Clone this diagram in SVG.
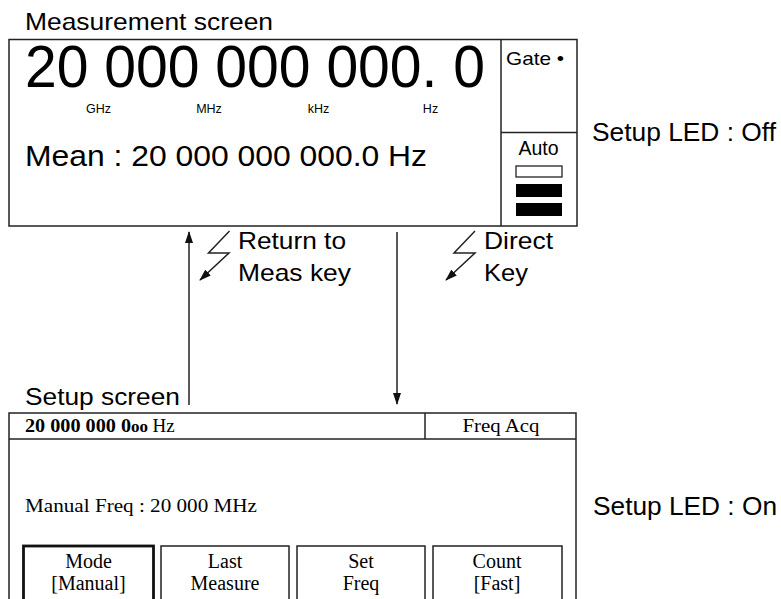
<svg xmlns="http://www.w3.org/2000/svg" width="781" height="599" viewBox="0 0 781 599">
<defs>
<style>
.ln{fill:none;stroke:#222;stroke-width:1.5}
.sans{font-family:"Liberation Sans",Arial,sans-serif;fill:#000}
.serif{font-family:"Liberation Serif","Times New Roman",serif;fill:#000}
</style>
<marker id="ah" markerUnits="userSpaceOnUse" markerWidth="12" markerHeight="8" viewBox="0 0 12 8" refX="11" refY="4" orient="auto">
<path d="M0,0 L12,4 L0,8 Z" fill="#111"/>
</marker>
</defs>
<rect width="781" height="599" fill="#fff"/>

<g id="measurement-screen">
<text class="sans" x="25" y="30" font-size="24" textLength="248" lengthAdjust="spacingAndGlyphs">Measurement screen</text>
<rect class="ln" x="9" y="39.5" width="568" height="186.5"/>
<line class="ln" x1="501" y1="39.5" x2="501" y2="226"/>
<line class="ln" x1="501" y1="132.5" x2="577" y2="132.5"/>
<text class="sans" x="25" y="87" font-size="59" textLength="460" lengthAdjust="spacingAndGlyphs">20 000 000 000. 0</text>
<g class="sans" font-size="12.5" text-anchor="middle">
<text x="98.5" y="113">GHz</text>
<text x="209" y="113">MHz</text>
<text x="318.5" y="113">kHz</text>
<text x="430.5" y="113">Hz</text>
</g>
<text class="sans" x="25" y="166" font-size="29" textLength="402" lengthAdjust="spacingAndGlyphs">Mean : 20 000 000 000.0 Hz</text>
<text class="sans" x="506" y="65" font-size="19" textLength="58" lengthAdjust="spacingAndGlyphs">Gate •</text>
<text class="sans" x="538.5" y="155" font-size="19.5" text-anchor="middle">Auto</text>
<rect x="516" y="166" width="46" height="11" fill="#fff" stroke="#222" stroke-width="1.3"/>
<rect x="516" y="184" width="46" height="13" fill="#000"/>
<rect x="516" y="203" width="46" height="13" fill="#000"/>
</g>

<g id="setup-led-off">
<text class="sans" x="592" y="141" font-size="25" textLength="184" lengthAdjust="spacingAndGlyphs">Setup LED : Off</text>
</g>

<g id="connectors">
<line class="ln" x1="189" y1="405" x2="189" y2="232" marker-end="url(#ah)"/>
<line class="ln" x1="397" y1="232" x2="397" y2="404" marker-end="url(#ah)"/>
<polyline class="ln" points="229.5,231 208.5,253 229,253 200,280" marker-end="url(#ah)"/>
<polyline class="ln" points="475,231 454,253 475,253 446,280" marker-end="url(#ah)"/>
</g>

<g id="labels-transitions">
<text class="sans" x="238" y="249" font-size="24" textLength="108" lengthAdjust="spacingAndGlyphs">Return to</text>
<text class="sans" x="238" y="281" font-size="24" textLength="113" lengthAdjust="spacingAndGlyphs">Meas key</text>
<text class="sans" x="484" y="249" font-size="24" textLength="69" lengthAdjust="spacingAndGlyphs">Direct</text>
<text class="sans" x="484" y="281" font-size="24" textLength="44" lengthAdjust="spacingAndGlyphs">Key</text>
</g>

<g id="setup-screen">
<text class="sans" x="25" y="405" font-size="23" textLength="155" lengthAdjust="spacingAndGlyphs">Setup screen</text>
<rect class="ln" x="9" y="413" width="567" height="200"/>
<line class="ln" x1="9" y1="439" x2="576" y2="439"/>
<line class="ln" x1="425" y1="413" x2="425" y2="439"/>
<text class="serif" x="25" y="432" font-size="18.5" font-weight="bold" textLength="106" lengthAdjust="spacingAndGlyphs">20 000 000 0</text>
<text class="serif" x="131" y="432" font-size="13" font-weight="bold" textLength="17" lengthAdjust="spacingAndGlyphs">00</text>
<text class="serif" x="152.5" y="432" font-size="19">Hz</text>
<text class="serif" x="501" y="432" font-size="19" text-anchor="middle" textLength="77" lengthAdjust="spacingAndGlyphs">Freq Acq</text>
<text class="serif" x="25" y="512" font-size="19.5" textLength="232" lengthAdjust="spacingAndGlyphs">Manual Freq : 20 000 MHz</text>
<rect x="23.5" y="546" width="130" height="60" fill="none" stroke="#111" stroke-width="2.8"/>
<rect class="ln" x="161" y="546" width="128" height="60"/>
<rect class="ln" x="297" y="546" width="128" height="60"/>
<rect class="ln" x="433" y="546" width="129" height="60"/>
<g class="serif" font-size="20" text-anchor="middle">
<text x="88.5" y="568">Mode</text>
<text x="88.5" y="590">[Manual]</text>
<text x="225" y="568">Last</text>
<text x="225" y="590">Measure</text>
<text x="361" y="568">Set</text>
<text x="361" y="590">Freq</text>
<text x="497" y="568">Count</text>
<text x="497" y="590">[Fast]</text>
</g>
</g>

<g id="setup-led-on">
<text class="sans" x="593" y="515" font-size="25" textLength="184" lengthAdjust="spacingAndGlyphs">Setup LED : On</text>
</g>
</svg>
